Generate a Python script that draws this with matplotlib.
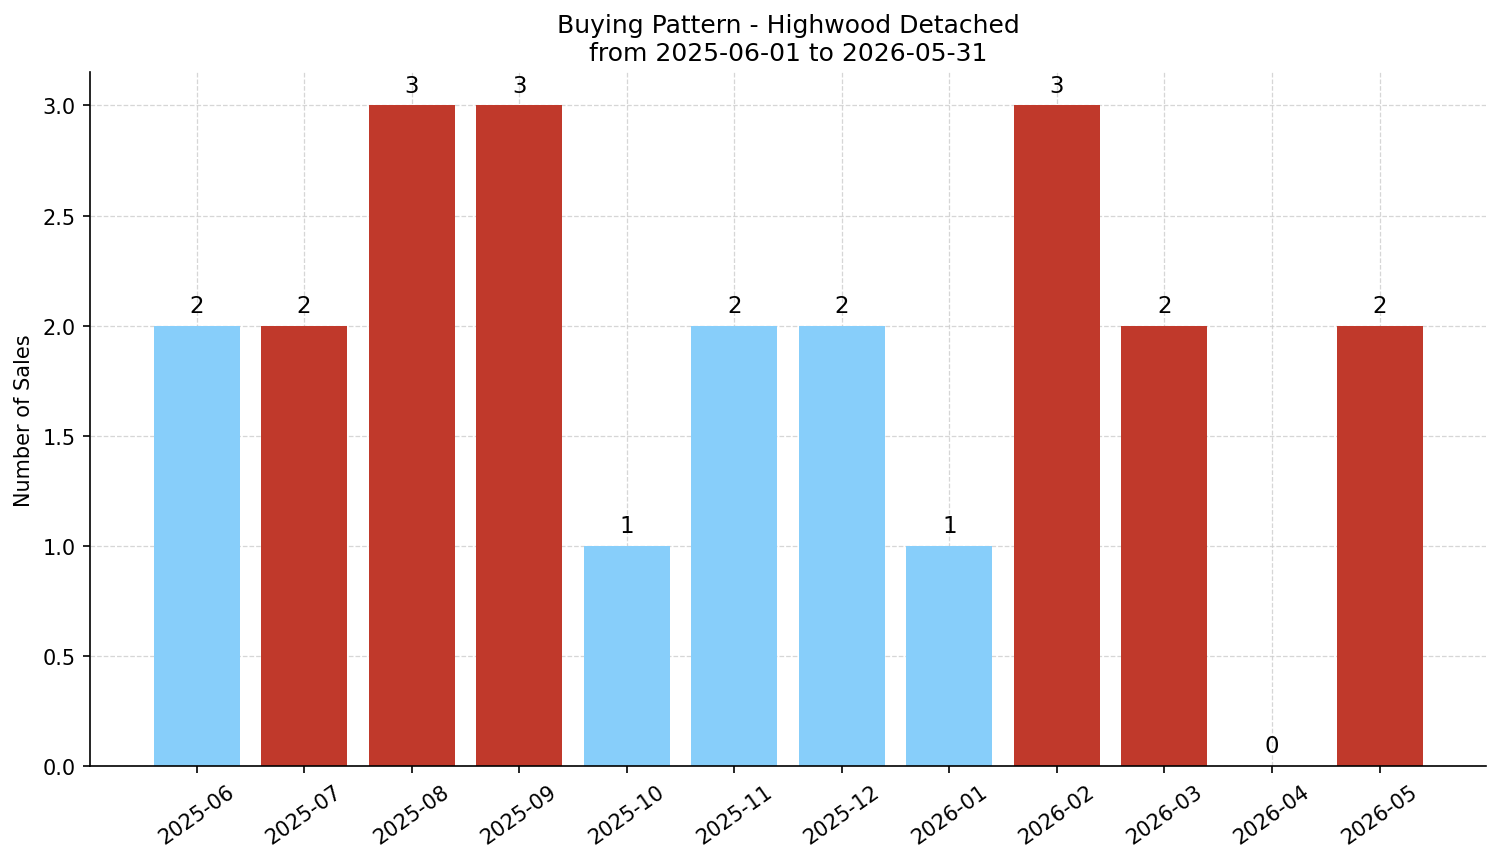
import matplotlib.pyplot as plt

months = ['2025-06', '2025-07', '2025-08', '2025-09', '2025-10', '2025-11',
          '2025-12', '2026-01', '2026-02', '2026-03', '2026-04', '2026-05']
sales = [2, 2, 3, 3, 1, 2, 2, 1, 3, 2, 0, 2]
bar_colors = ['#87CEFA', '#C0392B', '#C0392B', '#C0392B', '#87CEFA', '#87CEFA',
              '#87CEFA', '#87CEFA', '#C0392B', '#C0392B', '#87CEFA', '#C0392B']

fig, ax = plt.subplots(figsize=(10.007, 5.753), dpi=150)
fig.subplots_adjust(left=0.06, right=0.99, top=0.915, bottom=0.111)

bars = ax.bar(months, sales, color=bar_colors)
for rect, v in zip(bars, sales):
    ax.text(rect.get_x() + rect.get_width() / 2, v + 0.04, str(v),
            ha='center', va='bottom', fontsize=11)

ax.set_title('Buying Pattern - Highwood Detached\nfrom 2025-06-01 to 2026-05-31', fontsize=12)
ax.set_ylabel('Number of Sales')
ax.grid(True, linestyle='--', color='#cccccc', linewidth=0.6, alpha=0.8)
ax.set_axisbelow(True)
ax.spines['top'].set_visible(False)
ax.spines['right'].set_visible(False)
plt.setp(ax.get_xticklabels(), rotation=35)

fig.savefig('out.png', dpi=150)
